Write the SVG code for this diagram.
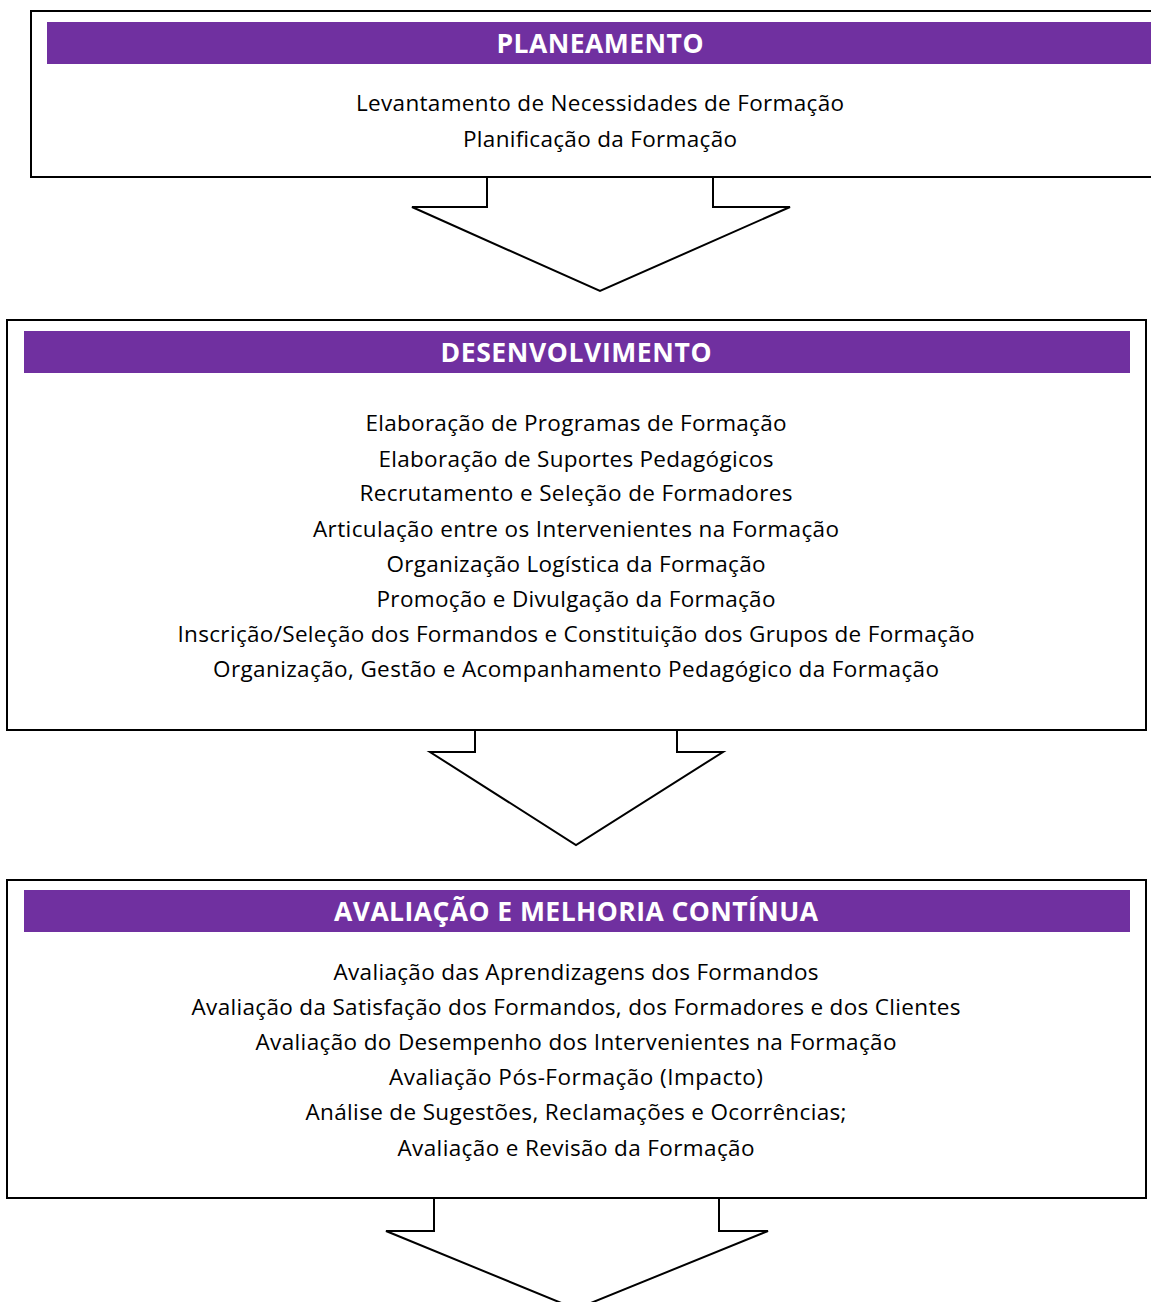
<svg xmlns="http://www.w3.org/2000/svg" width="1151" height="1302" viewBox="0 0 1151 1302">
<style>
.box{fill:#fff;stroke:#000;stroke-width:2}
.hdr{fill:#7030A0}
.ht{font-family:"Open Sans",sans-serif;font-weight:bold;font-size:26.5px;fill:#fff;text-anchor:middle}
.t{font-family:"Open Sans",sans-serif;font-size:22.5px;fill:#000;text-anchor:middle}
.arr{fill:#fff;stroke:#000;stroke-width:2;stroke-linejoin:miter}
</style>
<rect width="1151" height="1302" fill="#fff"/>
<g id="connectors">
<path class="arr" d="M487,177 V207 H412 L600,291 L790,207 H713 V177"/>
<path class="arr" d="M475,730 V752 H430 L576,845 L723,752 H677 V730"/>
<path class="arr" d="M434,1198 V1231 H386 L576,1309 L768,1231 H719 V1198"/>
</g>
<g id="planeamento">
<rect class="box" x="31" y="11" width="1140" height="166"/>
<rect class="hdr" x="47" y="22" width="1120" height="42"/>
<text class="ht" x="600" y="53" textLength="207">PLANEAMENTO</text>
<text class="t" x="600" y="111" textLength="488">Levantamento de Necessidades de Formação</text>
<text class="t" x="600" y="147" textLength="274">Planificação da Formação</text>
</g>
<g id="desenvolvimento">
<rect class="box" x="7" y="320" width="1139" height="410"/>
<rect class="hdr" x="24" y="331" width="1106" height="42"/>
<text class="ht" x="576" y="362" textLength="271">DESENVOLVIMENTO</text>
<text class="t" x="576" y="431" textLength="421">Elaboração de Programas de Formação</text>
<text class="t" x="576" y="467" textLength="395">Elaboração de Suportes Pedagógicos</text>
<text class="t" x="576" y="501" textLength="433">Recrutamento e Seleção de Formadores</text>
<text class="t" x="576" y="537" textLength="526">Articulação entre os Intervenientes na Formação</text>
<text class="t" x="576" y="572" textLength="379">Organização Logística da Formação</text>
<text class="t" x="576" y="607" textLength="399">Promoção e Divulgação da Formação</text>
<text class="t" x="576" y="642" textLength="797">Inscrição/Seleção dos Formandos e Constituição dos Grupos de Formação</text>
<text class="t" x="576" y="677" textLength="726">Organização, Gestão e Acompanhamento Pedagógico da Formação</text>
</g>
<g id="avaliacao">
<rect class="box" x="7" y="880" width="1139" height="318"/>
<rect class="hdr" x="24" y="890" width="1106" height="42"/>
<text class="ht" x="576" y="921" textLength="484">AVALIAÇÃO E MELHORIA CONTÍNUA</text>
<text class="t" x="576" y="980" textLength="485">Avaliação das Aprendizagens dos Formandos</text>
<text class="t" x="576" y="1015" textLength="769">Avaliação da Satisfação dos Formandos, dos Formadores e dos Clientes</text>
<text class="t" x="576" y="1050" textLength="641">Avaliação do Desempenho dos Intervenientes na Formação</text>
<text class="t" x="576" y="1085" textLength="374">Avaliação Pós-Formação (Impacto)</text>
<text class="t" x="576" y="1120" textLength="541">Análise de Sugestões, Reclamações e Ocorrências;</text>
<text class="t" x="576" y="1156" textLength="357">Avaliação e Revisão da Formação</text>
</g>
</svg>
